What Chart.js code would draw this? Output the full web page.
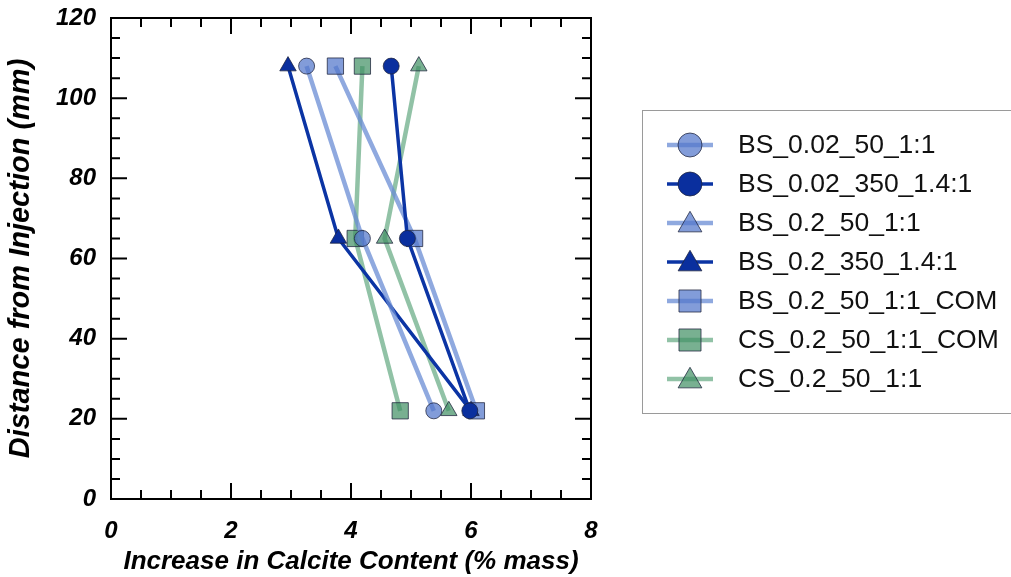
<!DOCTYPE html>
<html>
<head>
<meta charset="utf-8">
<script src="https://cdn.jsdelivr.net/npm/chart.js@4/dist/chart.umd.min.js"></script>
<style>
  html, body { margin: 0; padding: 0; background: #fff; }
  #wrap { width: 1011px; height: 577px; }
</style>
</head>
<body>
<div id="wrap"><canvas id="chart" width="1011" height="577"></canvas></div>
<script>
// distance from injection (mm) for the three sampling levels
const depths = [108, 65, 22];

// increase in calcite content (% mass) at each depth
const bs002_50 = [3.26, 4.19, 5.38];
const bs002_350 = [4.67, 4.94, 5.98];
const bs02_50 = [];               // not visible in the plot, legend only
const bs02_350 = [2.95, 3.79, 6.0];
const bs02_50com = [3.74, 5.06, 6.09];
const cs02_50com = [4.19, 4.07, 4.82];
const cs02_50 = [5.13, 4.56, 5.63];

const seriesNames = [
  'BS_0.02_50_1:1', 'BS_0.02_350_1.4:1', 'BS_0.2_50_1:1', 'BS_0.2_350_1.4:1',
  'BS_0.2_50_1:1_COM', 'CS_0.2_50_1:1_COM', 'CS_0.2_50_1:1'
];

const xTicks = [0, 2, 4, 6, 8];
const yTicks = [0, 20, 40, 60, 80, 100, 120];

const light = { fill: 'rgba(82,118,202,0.72)', line: 'rgba(105,140,212,0.75)', width: 4.5 };
const dark = { fill: '#0a2f9e', line: '#0b34a4', width: 3.5 };
const green = { fill: 'rgba(62,142,98,0.7)', line: 'rgba(98,168,128,0.7)', width: 4.5 };

function pts(xs) {
  return xs.map((x, i) => ({ x, y: depths[i] }));
}

function series(label, xs, style, shape, r) {
  return {
    label,
    data: pts(xs),
    showLine: true,
    borderColor: style.line,
    borderWidth: style.width,
    pointStyle: shape,
    pointRadius: r,
    pointHoverRadius: r,
    pointBackgroundColor: style.fill,
    pointBorderColor: 'rgba(30,35,60,0.75)',
    pointBorderWidth: 1,
    legendStyle: style
  };
}

const datasets = [
  series(seriesNames[0], bs002_50, light, 'circle', 8),
  series(seriesNames[1], bs002_350, dark, 'circle', 8),
  series(seriesNames[2], bs02_50, light, 'triangle', 9.5),
  series(seriesNames[3], bs02_350, dark, 'triangle', 9.5),
  series(seriesNames[4], bs02_50com, light, 'rect', 11.5),
  series(seriesNames[5], cs02_50com, green, 'rect', 11.5),
  series(seriesNames[6], cs02_50, green, 'triangle', 9.5)
];

const labelFont = { family: 'Liberation Sans', size: 24, style: 'italic', weight: 'bold' };
const xTitleFont = { family: 'Liberation Sans', size: 26, style: 'italic', weight: 'bold' };
const yTitleFont = { family: 'Liberation Sans', size: 29, style: 'italic', weight: 'bold' };

// frame plus inward ticks on all four sides
const frameTicks = {
  id: 'frameTicks',
  afterDatasetsDraw(chart) {
    const { ctx, chartArea: a, scales } = chart;
    ctx.save();
    ctx.strokeStyle = '#000';
    ctx.lineWidth = 2;
    ctx.strokeRect(a.left, a.top, a.right - a.left, a.bottom - a.top);
    ctx.beginPath();
    for (let v = 0.5; v < 8; v += 0.5) {
      const px = scales.x.getPixelForValue(v);
      const len = v % 2 === 0 ? 16 : 9;
      ctx.moveTo(px, a.bottom); ctx.lineTo(px, a.bottom - len);
      ctx.moveTo(px, a.top); ctx.lineTo(px, a.top + len);
    }
    for (let v = 5; v < 120; v += 5) {
      const py = scales.y.getPixelForValue(v);
      const len = v % 20 === 0 ? 16 : 9;
      ctx.moveTo(a.left, py); ctx.lineTo(a.left + len, py);
      ctx.moveTo(a.right, py); ctx.lineTo(a.right - len, py);
    }
    ctx.stroke();
    ctx.restore();
  }
};

// boxed legend with a line segment behind each marker
const boxLegend = {
  id: 'boxLegend',
  afterDraw(chart) {
    const ctx = chart.ctx;
    ctx.save();
    ctx.strokeStyle = '#9a9a9a';
    ctx.lineWidth = 1;
    ctx.strokeRect(642.5, 110.5, 420, 303);
    ctx.font = '26.5px "Liberation Sans", Arial, sans-serif';
    ctx.textBaseline = 'middle';
    chart.data.datasets.forEach((ds, i) => {
      const y = 145 + i * 39;
      const st = ds.legendStyle;
      ctx.strokeStyle = st.line;
      ctx.lineWidth = st.width;
      ctx.beginPath();
      ctx.moveTo(667, y);
      ctx.lineTo(713, y);
      ctx.stroke();
      const r = ds.pointStyle === 'circle' ? 12 : ds.pointStyle === 'rect' ? 15.6 : 13.7;
      ctx.fillStyle = st.fill;
      ctx.strokeStyle = 'rgba(30,35,60,0.75)';
      ctx.lineWidth = 1;
      Chart.helpers.drawPoint(ctx, { pointStyle: ds.pointStyle, radius: r, borderWidth: 1 }, 690, ds.pointStyle === 'triangle' ? y + 2 : y);
      ctx.fillStyle = '#111';
      ctx.fillText(ds.label, 738, y + 1);
    });
    ctx.restore();
  }
};

new Chart(document.getElementById('chart'), {
  type: 'scatter',
  data: { datasets },
  options: {
    responsive: false,
    animation: false,
    layout: { padding: { left: 0, top: 18, right: 420, bottom: 0 } },
    plugins: { legend: { display: false }, tooltip: { enabled: false } },
    scales: {
      x: {
        type: 'linear',
        min: 0,
        max: 8,
        afterBuildTicks(scale) { scale.ticks = xTicks.map(value => ({ value })); },
        afterFit(scale) {
          scale.height = 78;
          scale.paddingLeft = 0;
          scale.paddingRight = 0;
        },
        grid: { display: false, drawTicks: false },
        border: { display: false },
        ticks: { font: labelFont, color: '#000', padding: 18 },
        title: { display: true, text: 'Increase in Calcite Content (% mass)', font: xTitleFont, color: '#000', padding: { top: 0, bottom: 0 } }
      },
      y: {
        type: 'linear',
        min: 0,
        max: 120,
        afterBuildTicks(scale) { scale.ticks = yTicks.map(value => ({ value })); },
        afterFit(scale) {
          scale.width = 111;
          scale.paddingTop = 0;
          scale.paddingBottom = 0;
        },
        grid: { display: false, drawTicks: false },
        border: { display: false },
        ticks: { font: labelFont, color: '#000', padding: 15 },
        title: { display: true, text: 'Distance from Injection (mm)', font: yTitleFont, color: '#000', padding: { top: 4, bottom: 0 } }
      }
    }
  },
  plugins: [frameTicks, boxLegend]
});
</script>
</body>
</html>
